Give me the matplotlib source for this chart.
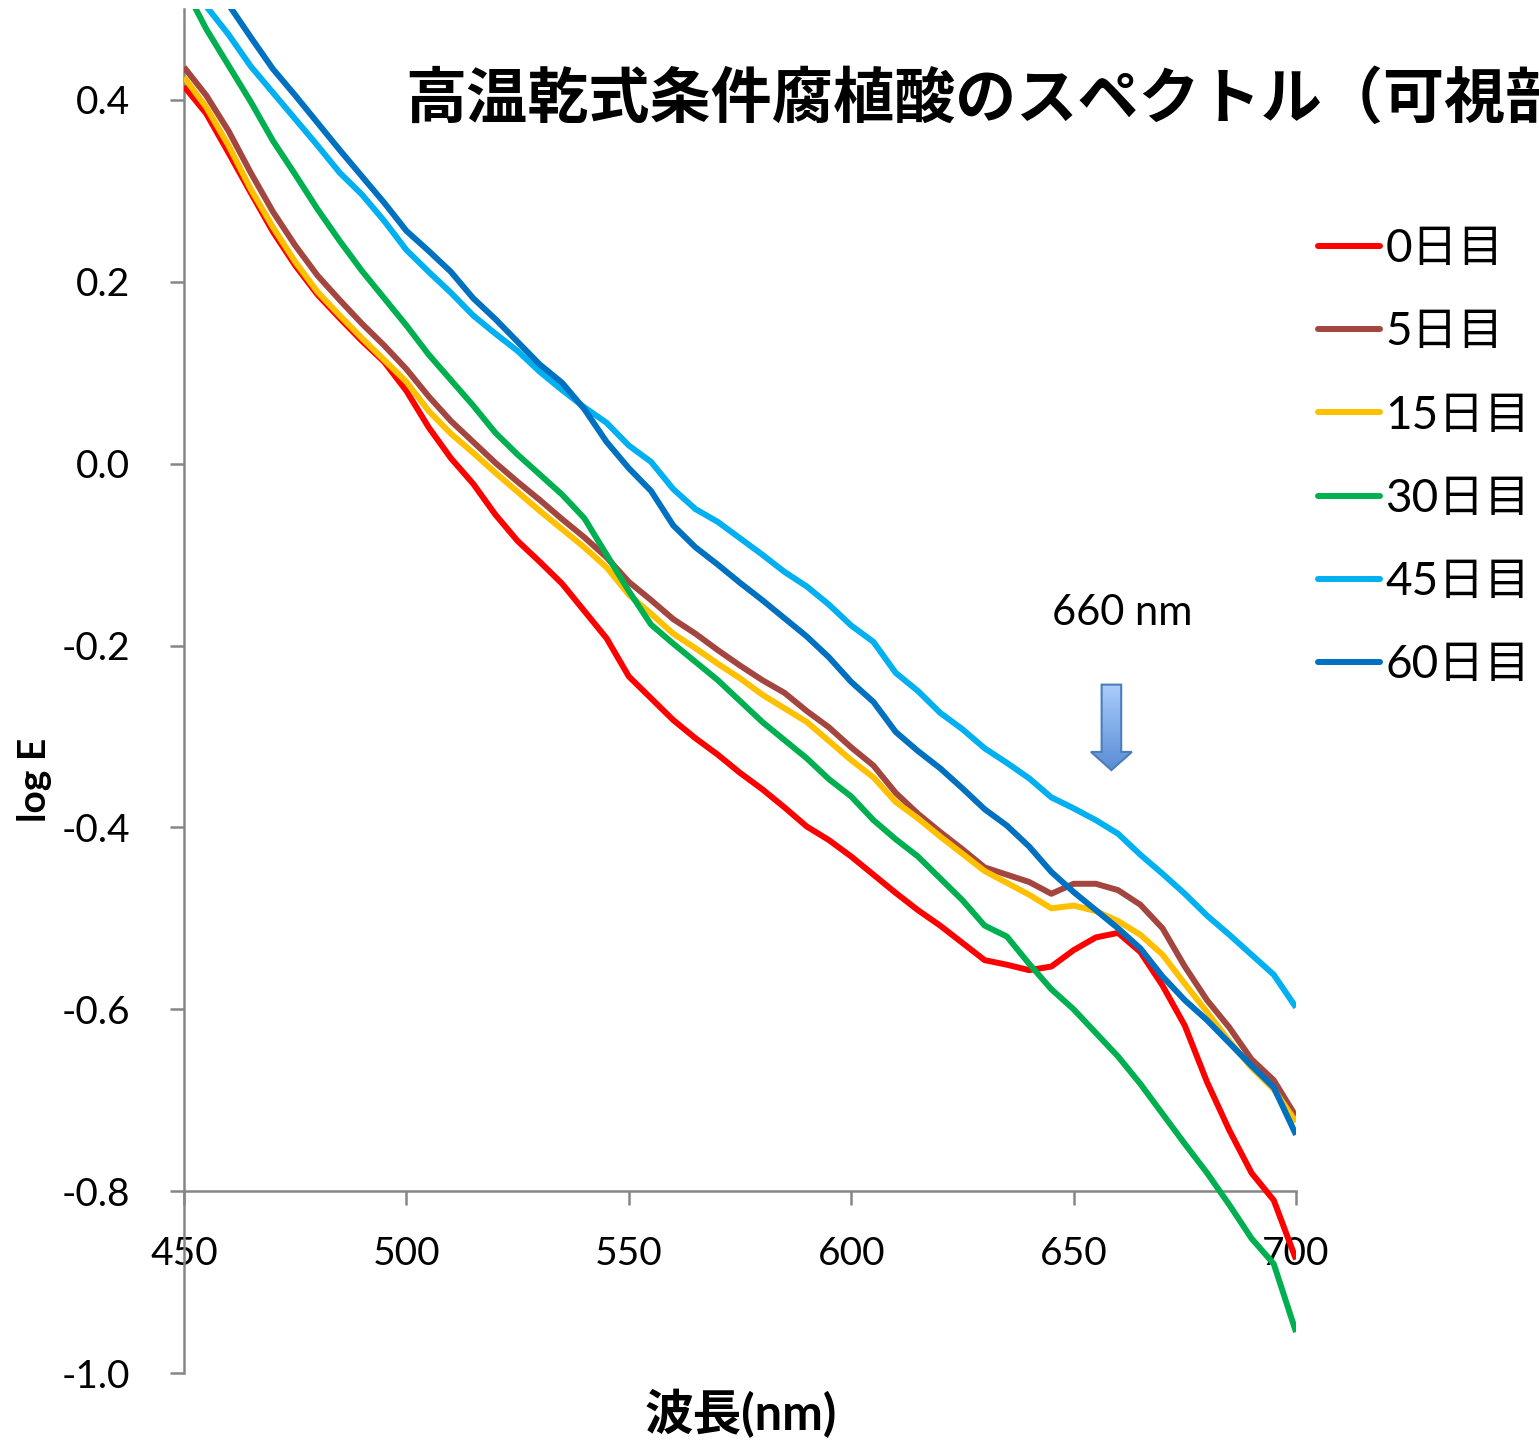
import matplotlib
matplotlib.use('Agg')
import numpy as np
import matplotlib.pyplot as plt
from matplotlib.patches import Polygon
from matplotlib.font_manager import FontProperties

plt.rcParams['font.family'] = ['Lato', 'Noto Sans CJK JP', 'DejaVu Sans']

# wavelength grid (nm)
wavelength = list(range(450, 705, 5))

# log E, one list per sampling day
day0 = [0.415, 0.385, 0.342, 0.298, 0.255, 0.218, 0.186, 0.160, 0.135, 0.112,
        0.080, 0.040, 0.006, -0.022, -0.056, -0.085, -0.108, -0.132, -0.162, -0.192,
        -0.234, -0.258, -0.282, -0.302, -0.320, -0.340, -0.358, -0.378, -0.399, -0.414,
        -0.432, -0.452, -0.472, -0.491, -0.508, -0.527, -0.546, -0.551, -0.557, -0.553,
        -0.535, -0.521, -0.516, -0.537, -0.574, -0.618, -0.680, -0.733, -0.780, -0.810,
        -0.875]
day5 = [0.436, 0.405, 0.366, 0.320, 0.277, 0.240, 0.207, 0.180, 0.154, 0.130,
        0.104, 0.074, 0.047, 0.024, 0.001, -0.020, -0.040, -0.061, -0.081, -0.103,
        -0.130, -0.150, -0.171, -0.187, -0.205, -0.222, -0.238, -0.252, -0.272, -0.290,
        -0.312, -0.332, -0.362, -0.385, -0.405, -0.424, -0.444, -0.452, -0.460, -0.473,
        -0.462, -0.462, -0.469, -0.485, -0.511, -0.553, -0.590, -0.620, -0.655, -0.678,
        -0.718]
day15 = [0.425, 0.392, 0.350, 0.302, 0.260, 0.222, 0.189, 0.163, 0.138, 0.114,
         0.090, 0.058, 0.033, 0.012, -0.010, -0.031, -0.052, -0.072, -0.092, -0.114,
         -0.144, -0.165, -0.187, -0.203, -0.220, -0.236, -0.254, -0.269, -0.284, -0.305,
         -0.326, -0.345, -0.372, -0.390, -0.410, -0.429, -0.448, -0.461, -0.474, -0.489,
         -0.486, -0.492, -0.503, -0.518, -0.540, -0.572, -0.603, -0.635, -0.664, -0.688,
         -0.724]
day30 = [0.525, 0.478, 0.438, 0.398, 0.355, 0.318, 0.280, 0.245, 0.212, 0.182,
         0.152, 0.120, 0.092, 0.064, 0.034, 0.010, -0.012, -0.034, -0.060, -0.100,
         -0.140, -0.177, -0.198, -0.218, -0.238, -0.261, -0.284, -0.304, -0.324, -0.347,
         -0.366, -0.392, -0.413, -0.432, -0.456, -0.480, -0.508, -0.520, -0.550, -0.578,
         -0.600, -0.626, -0.652, -0.682, -0.715, -0.748, -0.780, -0.815, -0.852, -0.880,
         -0.955]
day45 = [0.535, 0.503, 0.472, 0.437, 0.408, 0.379, 0.350, 0.320, 0.296, 0.267,
         0.235, 0.211, 0.188, 0.163, 0.143, 0.124, 0.101, 0.081, 0.062, 0.045,
         0.020, 0.002, -0.028, -0.050, -0.064, -0.082, -0.100, -0.119, -0.135, -0.155,
         -0.178, -0.196, -0.230, -0.250, -0.274, -0.292, -0.313, -0.329, -0.346, -0.367,
         -0.379, -0.392, -0.407, -0.430, -0.451, -0.473, -0.497, -0.518, -0.540, -0.562,
         -0.598]
day60 = [0.575, 0.540, 0.505, 0.469, 0.434, 0.405, 0.375, 0.345, 0.316, 0.287,
         0.256, 0.234, 0.211, 0.182, 0.159, 0.134, 0.109, 0.089, 0.060, 0.024,
         -0.005, -0.030, -0.068, -0.092, -0.111, -0.131, -0.150, -0.170, -0.190, -0.213,
         -0.240, -0.262, -0.295, -0.316, -0.335, -0.357, -0.380, -0.398, -0.421, -0.449,
         -0.471, -0.491, -0.511, -0.533, -0.564, -0.590, -0.612, -0.637, -0.662, -0.686,
         -0.738]

labels = ['0日目', '5日目', '15日目', '30日目', '45日目', '60日目']
colors = ['#FF0000', '#A3463F', '#FFC000', '#00B050', '#00B0F0', '#0070C0']
series = [day0, day5, day15, day30, day45, day60]

xticks = [450, 500, 550, 600, 650, 700]
yticks = [-1.0, -0.8, -0.6, -0.4, -0.2, 0.0, 0.2, 0.4]

fig = plt.figure(figsize=(15.39, 14.40), dpi=100)
ax = fig.add_axes([184 / 1539, 67 / 1440, 1112 / 1539, 1364 / 1440])

for vals, lab, col in zip(series, labels, colors):
    ax.plot(wavelength, vals, color=col, lw=4.3, label=lab, zorder=3,
            solid_joinstyle='round', solid_capstyle='butt')

# axis styling (Excel look): x axis crosses at -0.8
axis_gray = '#868686'
for side in ['top', 'right']:
    ax.spines[side].set_visible(False)
ax.spines['bottom'].set_position(('data', -0.8))
for side in ['left', 'bottom']:
    ax.spines[side].set_color(axis_gray)
    ax.spines[side].set_linewidth(1.8)

ax.set_xticks(xticks)
ax.set_xticklabels([str(t) for t in xticks])
ax.set_yticks(yticks)
ax.set_yticklabels([f"{t:.1f}" for t in yticks])
ax.tick_params(axis='y', direction='out', length=10, width=1.8, color=axis_gray,
               pad=29, labelsize=28)
ax.tick_params(axis='x', direction='out', length=10, width=1.8, color=axis_gray,
               pad=22, labelsize=28)

# 660 nm marker arrow with a vertical gradient fill
ax_x, top, bot, neck = 658.5, -0.243, -0.337, -0.317
shaft, head = 2.2, 4.6
arrow = Polygon([(ax_x - shaft, top), (ax_x + shaft, top), (ax_x + shaft, neck),
                 (ax_x + head, neck), (ax_x, bot), (ax_x - head, neck),
                 (ax_x - shaft, neck)], closed=True, facecolor='none',
                edgecolor='#4A7EBB', lw=1.5, zorder=5)
ax.add_patch(arrow)
grad = np.linspace(0, 1, 64).reshape(-1, 1)
cmap = matplotlib.colors.LinearSegmentedColormap.from_list('arr', ['#A9CDFB', '#5A8DD6'])
img = ax.imshow(grad, cmap=cmap, extent=[ax_x - head, ax_x + head, bot, top],
                origin='upper', aspect='auto', zorder=4)
img.set_clip_path(arrow)

ax.set_xlim(450, 700)
ax.set_ylim(-1.0, 0.5)

ax.text(661, -0.164, '660 nm', fontsize=30, ha='center', va='center')

leg = ax.legend(loc='upper left', bbox_to_anchor=(1318 / 1539, 1 - 228 / 1440),
                bbox_transform=fig.transFigure, frameon=False,
                prop=FontProperties(family=['Lato', 'Noto Sans CJK JP'], size=33),
                handlelength=1.35, handletextpad=0.12, labelspacing=0.9,
                borderpad=0, borderaxespad=0)
for line in leg.get_lines():
    line.set_linewidth(4.3)
    line.set_solid_capstyle('round')

fig.text(405 / 1539, 1 - 100 / 1440, '高温乾式条件腐植酸のスペクトル（可視部）',
         fontsize=44, fontweight='bold', family=['Noto Sans CJK JP'],
         ha='left', va='center')
fig.text(35 / 1539, 1 - 780 / 1440, 'log E', fontsize=28, fontweight='bold',
         rotation=90, ha='center', va='center')
fig.text(741 / 1539, 1 - 1413 / 1440, '波長(nm)', fontsize=35, fontweight='bold',
         ha='center', va='center')

fig.savefig('out.png', dpi=100)
